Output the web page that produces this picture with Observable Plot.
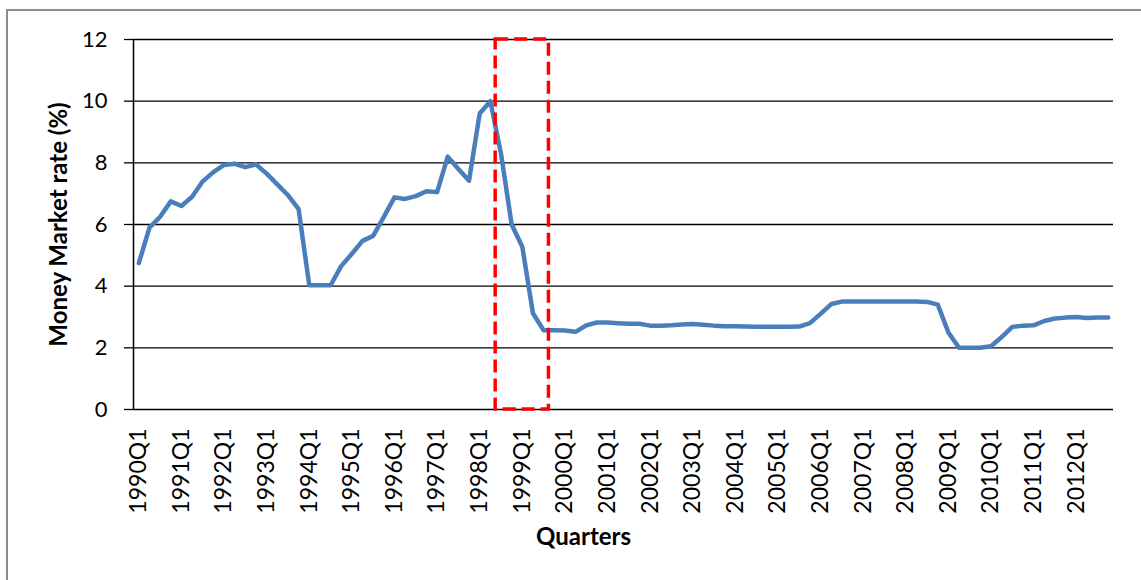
<!DOCTYPE html>
<html>
<head>
<meta charset="utf-8">
<script src="https://cdn.jsdelivr.net/npm/d3@7"></script>
<script src="https://cdn.jsdelivr.net/npm/@observablehq/plot@0.6"></script>
<style>
  html, body { margin: 0; padding: 0; background: #fff; overflow: hidden; }
  #wrap { position: relative; width: 1141px; height: 580px; }
  #frame { position: absolute; left: 6px; top: 9px; width: 1300px; height: 800px;
           border-left: 2px solid #8c8c8c; border-top: 2px solid #8c8c8c; pointer-events: none; }
  #chart { position: absolute; left: 0; top: 0; }
</style>
</head>
<body>
<div id="wrap"><div id="frame"></div><div id="chart"></div></div>
<script>
// ---- data ----
const years = [1990,1991,1992,1993,1994,1995,1996,1997,1998,1999,2000,2001,
               2002,2003,2004,2005,2006,2007,2008,2009,2010,2011,2012];
const quarterNames = ["Q1","Q2","Q3","Q4"];
const rates = [
  4.75, 5.90, 6.25, 6.75,   // 1990
  6.60, 6.90, 7.40, 7.70,   // 1991
  7.93, 7.97, 7.86, 7.95,   // 1992
  7.65, 7.30, 6.95, 6.50,   // 1993
  4.03, 4.03, 4.03, 4.65,   // 1994
  5.05, 5.47, 5.63, 6.25,   // 1995
  6.88, 6.83, 6.92, 7.08,   // 1996
  7.05, 8.20, 7.80, 7.42,   // 1997
  9.60, 10.00, 8.30, 6.00,  // 1998
  5.28, 3.12, 2.57, 2.57,   // 1999
  2.56, 2.52, 2.73, 2.82,   // 2000
  2.82, 2.80, 2.78, 2.78,   // 2001
  2.72, 2.72, 2.73, 2.76,   // 2002
  2.77, 2.75, 2.72, 2.70,   // 2003
  2.70, 2.69, 2.68, 2.68,   // 2004
  2.68, 2.68, 2.69, 2.80,   // 2005
  3.10, 3.42, 3.50, 3.50,   // 2006
  3.50, 3.50, 3.50, 3.50,   // 2007
  3.50, 3.50, 3.49, 3.40,   // 2008
  2.50, 2.00, 2.00, 2.00,   // 2009
  2.05, 2.35, 2.68, 2.72,   // 2010
  2.73, 2.87, 2.95, 2.98,   // 2011
  3.00, 2.97, 2.98, 2.98    // 2012
];
const tickLabels = ["1990Q1","1991Q1","1992Q1","1993Q1","1994Q1","1995Q1","1996Q1",
  "1997Q1","1998Q1","1999Q1","2000Q1","2001Q1","2002Q1","2003Q1","2004Q1","2005Q1",
  "2006Q1","2007Q1","2008Q1","2009Q1","2010Q1","2011Q1","2012Q1"];
const yTicks = [0, 2, 4, 6, 8, 10, 12];
const highlightStart = "1998Q3";
const highlightEnd = "1999Q3";

// ---- derived tables ----
const quarters = years.flatMap(y => quarterNames.map(q => `${y}${q}`));
const series = rates.map((v, i) => ({i, q: quarters[i], v}));
const tickIdx = tickLabels.map(t => quarters.indexOf(t));
const box = [{x1: quarters.indexOf(highlightStart) - 0.5, x2: quarters.indexOf(highlightEnd) + 0.5}];

const chart = Plot.plot({
  width: 1141,
  height: 580,
  marginLeft: 133,
  marginRight: 28,
  marginTop: 39,
  marginBottom: 171,
  style: {fontFamily: "Lato, 'Open Sans', sans-serif", color: "#000", background: "transparent"},
  x: {type: "linear", domain: [-0.5, quarters.length - 0.5], axis: null},
  y: {domain: [0, 12], axis: null},
  marks: [
    Plot.gridY(yTicks, {stroke: "#000", strokeOpacity: 1, strokeWidth: 1.3}),
    Plot.axisY(yTicks, {tickSize: 9, tickPadding: 17, fontSize: 22, stroke: "#000", strokeWidth: 1.3, label: null}),
    Plot.ruleX([-0.5], {y1: 0, y2: 12, stroke: "#000", strokeWidth: 1.5}),
    Plot.axisX(tickIdx, {tickFormat: i => quarters[i], tickRotate: -90, tickSize: 0, tickPadding: 19, fontSize: 23, label: null}),
    Plot.line(series, {x: "i", y: "v", stroke: "#4a7ebb", strokeWidth: 4.5, strokeLinejoin: "round", strokeLinecap: "round"}),
    Plot.rect(box, {x1: "x1", x2: "x2", y1: 0, y2: 12, fill: "none", stroke: "#ff0000", strokeWidth: 3.5, strokeDasharray: "13,6"}),
    Plot.text(["Quarters"], {frameAnchor: "bottom", textAnchor: "middle", lineAnchor: "middle", dx: -40, dy: 128, fontSize: 24, fontWeight: "bold", fill: "#000"}),
    Plot.text(["Money Market rate (%)"], {frameAnchor: "left", textAnchor: "middle", lineAnchor: "middle", rotate: -90, dx: -74, fontSize: 24, fontWeight: "bold", fill: "#000"})
  ]
});
document.getElementById("chart").appendChild(chart);
</script>
</body>
</html>
